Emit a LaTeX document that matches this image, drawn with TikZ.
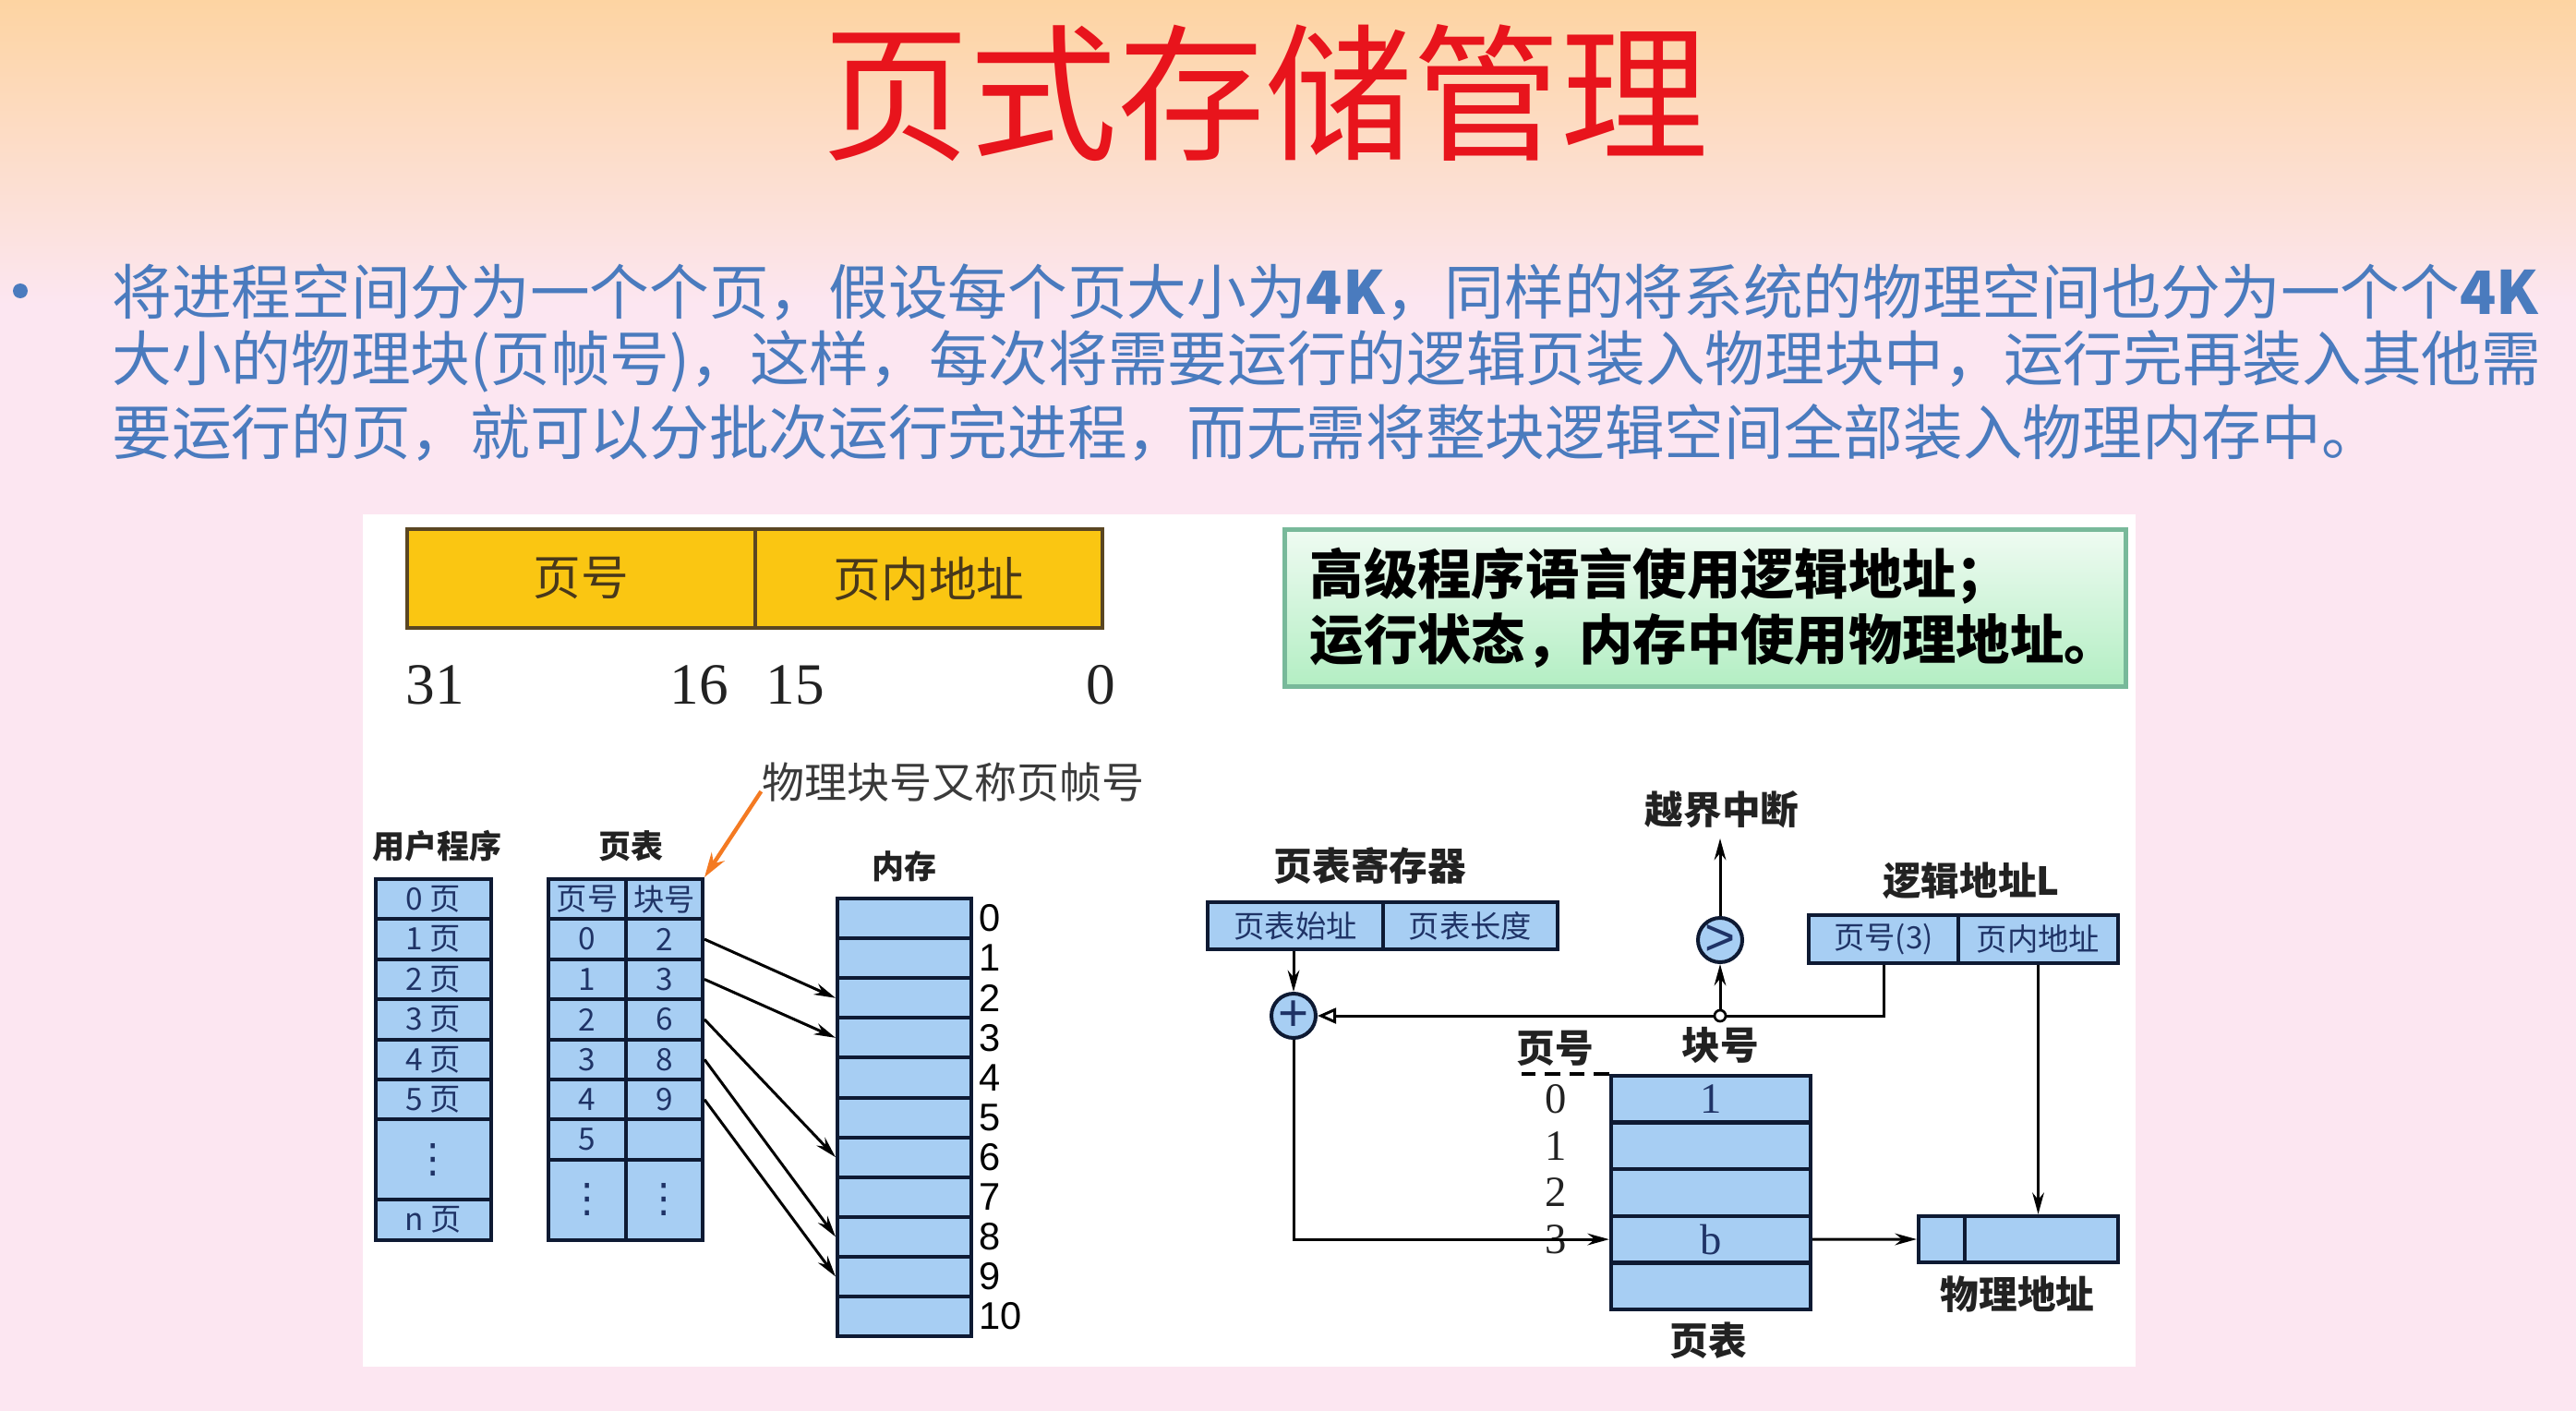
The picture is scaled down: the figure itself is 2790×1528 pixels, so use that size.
\documentclass[tikz,border=0pt]{standalone}
\usepackage{fontspec}
\setmainfont{Noto Sans CJK SC}
\newfontfamily\numserif{Liberation Serif}
\newfontfamily\numsans{Liberation Sans}
\newfontfamily\symfont{DejaVu Sans}
\usetikzlibrary{arrows.meta,calc}

\definecolor{peach}{HTML}{FDD4A2}
\definecolor{pinkbg}{HTML}{FCE6F1}
\definecolor{titlered}{HTML}{E8141C}
\definecolor{bodyblue}{HTML}{4A7BBE}
\definecolor{cellblue}{HTML}{A7CEF3}
\definecolor{cellline}{HTML}{0E1A33}
\definecolor{celltext}{HTML}{1F3366}
\definecolor{gold}{HTML}{FAC612}
\definecolor{goldline}{HTML}{5A4622}
\definecolor{notegray}{HTML}{3A3A3A}
\definecolor{arroworange}{HTML}{F47A22}
\definecolor{greentop}{HTML}{EFFBF2}
\definecolor{greenbot}{HTML}{B3EEC3}
\definecolor{greenline}{HTML}{78B99A}
\definecolor{labelblack}{HTML}{222222}

% font size helpers (size, baseline skip)
\newcommand{\setfs}[1]{\fontsize{#1pt}{#1pt}\selectfont}
\newcommand{\setfsb}[2]{\fontsize{#1pt}{#2pt}\selectfont}
\newcommand{\vdotsmark}{{\symfont\setfs{13}⋮}}

\begin{document}
\begin{tikzpicture}[x=0.3pt,y=-0.3pt,
  wpx/.style={minimum width=#1*0.3pt},
  hpx/.style={minimum height=#1*0.3pt},
  cell/.style={draw=cellline, line width=1.2pt, fill=cellblue, inner sep=0pt,
    text=celltext, font=\setfs{10}},
  cellr/.style={draw=cellline, line width=1.3pt, fill=cellblue, inner sep=0pt,
    text=celltext, font=\setfs{10}},
  goldcell/.style={draw=goldline, line width=1pt, fill=gold, inner sep=0pt,
    text=goldline!80!black, font=\setfs{15.5}},
  bitnum/.style={font=\numserif\setfs{19}, text=labelblack, inner sep=0pt},
  smlabel/.style={font=\bfseries\setfs{10.5}, text=labelblack, inner sep=0pt},
  blabel/.style={font=\bfseries\setfs{12.5}, text=labelblack, inner sep=0pt},
  memnum/.style={font=\numsans\setfs{12.5}, text=black, anchor=west, inner sep=0pt},
  rownum/.style={font=\numserif\setfs{14}, text=labelblack, inner sep=0pt},
  body/.style={font=\setfs{19.4}, text=bodyblue, anchor=west, inner sep=0pt},
  opcircle/.style={circle, draw=cellline, line width=1.2pt, fill=cellblue,
    minimum size=14.4pt, inner sep=0pt, font=\numsans\setfs{17}, text=celltext},
  junction/.style={circle, draw=black, fill=white, line width=0.8pt,
    minimum size=3.6pt, inner sep=0pt},
  link/.style={line width=0.9pt, draw=black, -{Stealth[length=7pt,width=3.8pt]}},
  linkopen/.style={line width=0.9pt, draw=black, -{Triangle[open,length=6pt,width=5pt]}},
  wire/.style={line width=0.9pt, draw=black},
]
\useasboundingbox (0,0) rectangle (2790,1528);

% slide background
\shade[top color=peach, bottom color=pinkbg] (0,0) rectangle (2790,330);
\fill[pinkbg] (0,329) rectangle (2790,1528);

% title
\node[font=\setfs{48}, text=titlered, inner sep=0pt] (title) at (1370,101) {页式存储管理};

% bullet paragraph
\node[circle, fill=bodyblue, minimum size=4.8pt, inner sep=0pt] (bullet) at (22,315) {};
\node[body] (line1) at (121,317) {将进程空间分为一个个页，假设每个页大小为{\bfseries 4K}，同样的将系统的物理空间也分为一个个{\bfseries 4K}};
\node[body] (line2) at (121,391) {大小的物理块(页帧号)，这样，每次将需要运行的逻辑页装入物理块中，运行完再装入其他需};
\node[body] (line3) at (121,468) {要运行的页，就可以分批次运行完进程，而无需将整块逻辑空间全部装入物理内存中。};

% white figure panel
\fill[white] (393,557) rectangle (2313,1480);

% 32-bit logical address layout
\node[goldcell, wpx=377, hpx=107] (fieldpage) at (629.5,626.5) {页号};
\node[goldcell, wpx=376, hpx=107] (fieldoff) at (1006,626.5) {页内地址};
\node[bitnum] (b31) at (471,742) {31};
\node[bitnum] (b16) at (757,742) {16};
\node[bitnum] (b15) at (861,742) {15};
\node[bitnum] (b0) at (1192,742) {0};

% hint box
\node[draw=greenline, line width=1.5pt, top color=greentop, bottom color=greenbot,
  wpx=911, hpx=170, inner sep=0pt] (hint) at (1846.5,658) {};
\node[font=\bfseries\setfsb{17.5}{21.3}, text=black, align=left, anchor=west, inner sep=0pt]
  (hinttext) at (1418,658) {高级程序语言使用逻辑地址；\\运行状态，内存中使用物理地址。};

% ---- left figure: user program, page table, memory ----
\node[font=\setfs{13.8}, text=notegray, inner sep=0pt] (note) at (1032,847) {物理块号又称页帧号};
\node[smlabel] (uptitle) at (473,916) {用户程序};
\node[smlabel] (pttitle) at (683,916) {页表};
\node[smlabel] (memtitle) at (979,938) {内存};

% user program pages
\foreach \i in {0,...,5}
  \node[cell, wpx=125, hpx=43.4] (up\i) at (469.5,{973.7+43.4*\i}) {\i\ 页};
\node[cell, wpx=125, hpx=86.8] (updots) at (469.5,1255.8) {\vdotsmark};
\node[cell, wpx=125, hpx=43.4] (upn) at (469.5,1320.9) {n\ 页};

% page table
\node[cell, wpx=84, hpx=43.4] (pthl) at (636,973.7) {页号};
\node[cell, wpx=83, hpx=43.4] (pthr) at (719.5,973.7) {块号};
\foreach \i/\b in {0/2,1/3,2/6,3/8,4/9}{
  \node[cell, wpx=84, hpx=43.4] (pl\i) at (636,{1017.1+43.4*\i}) {\i};
  \node[cell, wpx=83, hpx=43.4] (pr\i) at (719.5,{1017.1+43.4*\i}) {\b};
}
\node[cell, wpx=84, hpx=43.4] (pl5) at (636,1234.1) {5};
\node[cell, wpx=83, hpx=43.4] (pr5) at (719.5,1234.1) {};
\node[cell, wpx=84, hpx=86.8] (pldots) at (636,1299.2) {\vdotsmark};
\node[cell, wpx=83, hpx=86.8] (prdots) at (719.5,1299.2) {\vdotsmark};

% memory frames
\foreach \i in {0,...,10}{
  \node[cell, wpx=145, hpx=43.1] (mem\i) at (979.5,{994.55+43.1*\i}) {};
  \node[memnum] (memno\i) at (1060,{994.55+43.1*\i}) {\i};
}

% page -> frame mapping
\draw[link] (pr0.east) -- (mem2.west);
\draw[link] (pr1.east) -- (mem3.west);
\draw[link] (pr2.east) -- (mem6.west);
\draw[link] (pr3.east) -- (mem8.west);
\draw[link] (pr4.east) -- (mem9.west);

% pointer from the note to the frame-number column
\draw[line width=1.3pt, draw=arroworange, -{Stealth[length=8pt,width=5pt]}]
  ([yshift=-3pt]note.west) -- (pthr.north east);

% ---- right figure: address translation ----
\node[blabel] (regtitle) at (1484,938) {页表寄存器};
\node[cellr, wpx=190, hpx=51] (regbase) at (1403,1002.5) {页表始址};
\node[cellr, wpx=189, hpx=51] (reglen) at (1592.5,1002.5) {页表长度};

\node[blabel] (trap) at (1865,877) {越界中断};
\coordinate (trapin) at (1863,908);
\node[opcircle] (cmp) at (1863,1018) {>};
\node[opcircle] (adder) at (1401,1100) {+};
\node[junction] (tap) at (1863,1100) {};

\node[blabel] (latitle) at (2135,954) {逻辑地址L};
\node[cellr, wpx=162, hpx=52] (lapage) at (2040,1017) {页号(3)};
\node[cellr, wpx=173, hpx=52] (laoff) at (2207.5,1017) {页内地址};

\node[blabel] (pnlabel) at (1684,1135) {页号};
\node[blabel] (fnlabel) at (1863,1132) {块号};

\foreach \i/\t in {0/1,1/{},2/{},3/b,4/{}}
  \node[cellr, font=\numserif\setfs{14}, wpx=216, hpx=50.6] (pte\i) at (1853,{1190.3+50.6*\i}) {\t};
\foreach \i in {0,...,3}
  \node[rownum] (rn\i) at (1685,{1190.3+50.6*\i}) {\i};
\node[blabel] (ptetitle) at (1850,1452) {页表};

\node[cellr, wpx=50, hpx=50] (paframe) at (2103,1342) {};
\node[cellr, wpx=166, hpx=50] (paoff) at (2211,1342) {};
\node[blabel] (patitle) at (2185,1402) {物理地址};

\draw[dashed, line width=1.1pt, dash pattern=on 5pt off 3pt] (pte0.north west) -- ++(-95,0);

\draw[link] (regbase.south -| adder.north) -- (adder.north);
\draw[link] (cmp.north) -- (trapin);
\draw[link] (tap.north) -- (cmp.south);
\draw[wire] (lapage.south) |- (tap.east);
\draw[linkopen] (tap.west) -- (adder.east);
\draw[link] (adder.south) |- (pte3.west);
\draw[link] (pte3.east) -- (paframe.west);
\draw[link] (laoff.south) -- (laoff.south |- paoff.north);
\end{tikzpicture}
\end{document}
